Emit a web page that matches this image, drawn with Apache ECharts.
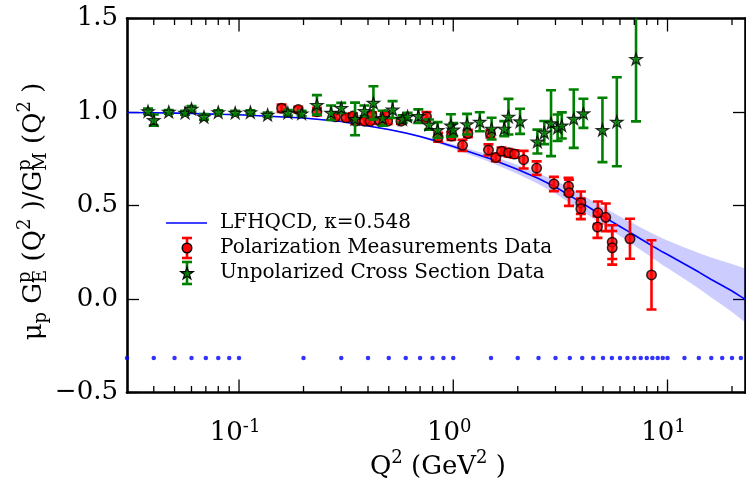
<!DOCTYPE html>
<html><head><meta charset="utf-8">
<script src="https://cdn.jsdelivr.net/npm/echarts@6/dist/echarts.min.js"></script>
<style>html,body{margin:0;padding:0;background:#fff}#c{width:746px;height:482px}</style>
</head><body><div id="c"></div>
<script>
const FONT = 'DejaVu Serif';
const seriesNames = ['LFHQCD, κ=0.548', 'Polarization Measurements Data', 'Unpolarized Cross Section Data'];

// theory curve (LFHQCD) and its uncertainty band
const curveQ = [0.03,0.04,0.05,0.06,0.07,0.08,0.09,0.1,0.2,0.3,0.4,0.5,0.6,0.7,0.8,0.9,1.0,1.5,2.0,2.5,3.0,3.5,4.0,4.5,5.0,5.5,6.0,6.5,7.0,7.5,8.0,8.5,9.0,9.5,10,12,14,16,18,20,22,23];
const curveV = [0.997,0.996,0.994,0.992,0.990,0.988,0.987,0.985,0.968,0.949,0.925,0.906,0.888,0.869,0.850,0.832,0.816,0.749,0.693,0.644,0.599,0.553,0.513,0.476,0.444,0.414,0.388,0.364,0.342,0.321,0.302,0.283,0.267,0.251,0.238,0.187,0.144,0.104,0.072,0.043,0.013,0.000];
const bandUpper = [1.000,0.999,0.997,0.995,0.993,0.991,0.990,0.988,0.971,0.952,0.928,0.909,0.893,0.875,0.858,0.842,0.827,0.768,0.717,0.673,0.634,0.593,0.556,0.521,0.492,0.465,0.441,0.420,0.401,0.382,0.366,0.350,0.337,0.323,0.313,0.275,0.246,0.222,0.203,0.187,0.171,0.163];
const bandLower = [0.994,0.993,0.991,0.989,0.987,0.985,0.984,0.982,0.965,0.946,0.922,0.903,0.883,0.863,0.842,0.822,0.805,0.730,0.669,0.615,0.564,0.513,0.470,0.431,0.396,0.366,0.337,0.311,0.286,0.262,0.241,0.219,0.200,0.181,0.166,0.107,0.056,0.008,-0.032,-0.069,-0.107,-0.123];

// blue dot row (Q^2 grid)
const gridDotQ = [0.03,0.04,0.05,0.06,0.07,0.08,0.09,0.1,0.2,0.3,0.4,0.5,0.6,0.7,0.8,0.9,1.0,1.5,2.0,2.5,3.0,3.5,4.0,4.5,5.0,5.5,6.0,6.5,7.0,7.5,8.0,8.5,9.0,9.5,10,12,14,16,18,20,22];
const gridDotLevel = -0.315;

// polarization measurements
const polQ = [0.158,0.189,0.231,0.282,0.316,0.340,0.350,0.385,0.409,0.417,0.455,0.480,0.494,0.570,0.750,0.850,0.980,1.105,1.170,1.490,1.460,1.580,1.680,1.810,1.930,2.130,2.450,2.950,3.450,3.470,3.940,3.940,4.730,4.710,5.150,5.520,5.520,6.680,8.420];
const polV = [1.020,1.013,1.002,0.974,0.969,0.978,0.951,0.951,0.951,0.983,0.951,0.985,0.951,0.951,0.975,0.865,0.871,0.822,0.885,0.884,0.797,0.757,0.790,0.782,0.775,0.745,0.700,0.615,0.603,0.568,0.515,0.482,0.461,0.385,0.437,0.304,0.274,0.322,0.129];
const polErr = [0.020,0.015,0.020,0.015,0.015,0.015,0.015,0.015,0.015,0.015,0.015,0.015,0.015,0.015,0.025,0.024,0.020,0.030,0.020,0.020,0.030,0.020,0.020,0.020,0.020,0.047,0.036,0.038,0.045,0.070,0.060,0.055,0.060,0.058,0.074,0.090,0.090,0.107,0.185];

// unpolarized cross section data
const unpQ = [0.0376,0.040,0.047,0.056,0.060,0.0686,0.080,0.096,0.113,0.136,0.169,0.196,0.231,0.269,0.300,0.348,0.385,0.424,0.468,0.521,0.580,0.612,0.687,0.770,0.845,0.975,1.000,1.160,1.330,1.510,1.730,1.810,2.050,2.470,2.660,2.860,3.070,3.210,3.650,4.050,4.970,5.800,7.130];
const unpV = [1.004,0.957,1.001,0.996,1.017,0.974,0.999,0.996,0.999,0.985,0.996,0.992,1.038,0.996,1.022,0.963,1.006,1.049,0.967,1.013,0.962,0.976,0.978,0.933,0.904,0.928,0.906,0.935,0.948,0.911,0.911,0.975,0.950,0.842,0.890,0.940,0.916,0.928,0.964,0.993,0.904,0.948,1.284];
const unpErr = [0.015,0.030,0.010,0.010,0.015,0.015,0.010,0.010,0.010,0.012,0.015,0.015,0.052,0.039,0.027,0.087,0.029,0.089,0.040,0.045,0.020,0.020,0.036,0.027,0.042,0.060,0.035,0.055,0.051,0.058,0.040,0.095,0.067,0.064,0.062,0.176,0.071,0.070,0.156,0.078,0.172,0.238,0.334];

// axes
const xMin = 0.03, xMax = 23;
const yMin = -0.5, yMax = 1.5, yStep = 0.5;
const xMajorTicks = [0.1, 1, 10];
const xMinorTicks = [0.04,0.05,0.06,0.07,0.08,0.09,0.2,0.3,0.4,0.5,0.6,0.7,0.8,0.9,2,3,4,5,6,7,8,9,20];

// 5-point star marker outline (unit geometry)
const STAR_PTS = [[0,-10],[2.245,-3.09],[9.511,-3.09],[3.633,1.18],[5.878,8.09],[0,3.82],[-5.878,8.09],[-3.633,1.18],[-9.511,-3.09],[-2.245,-3.09]];
const STAR = 'path://M' + STAR_PTS.map(p => p[0] + ',' + p[1]).join('L') + 'Z';
const RED = '#ff0000', GREEN = '#008000', BLUE = '#0000ff';

const mctx = document.createElement('canvas').getContext('2d');
function tw(t, s) { mctx.font = s + 'px "' + FONT + '"'; return mctx.measureText(t).width; }
function txt(t, s, x, y) {
  return { type: 'text', x: x, y: y, style: { text: t, fontSize: s, fontFamily: FONT, fill: '#000', verticalAlign: 'middle', align: 'left' } };
}
function buildPieces(pieces) {
  let x = 0; const out = [];
  pieces.forEach(p => {
    if (p.stack) {
      let w = 0;
      p.stack.forEach(s => { out.push(txt(s[0], s[1], x, s[2])); w = Math.max(w, tw(s[0], s[1])); });
      x += w;
    } else { out.push(txt(p[0], p[1], x, p[2])); x += tw(p[0], p[1]); }
  });
  return { children: out, width: x };
}
const M = 26, S = 18, UP = -9, DN = 7;
const yTitle = buildPieces([
  ['μ', M, 0], ['p', S, DN], [' G', M, 0], { stack: [['p', S, UP], ['E', S, DN]] },
  [' (Q', M, 0], ['2', S, UP], [' )/G', M, 0], { stack: [['p', S, UP], ['M', S, DN]] },
  [' (Q', M, 0], ['2', S, UP], [' )', M, 0]
]);
const xTitle = buildPieces([['Q', M, 0], ['2', S, UP], [' (GeV', M, 0], ['2', S, UP], [' )', M, 0]]);

function errBars(qs, vs, es, color) {
  return {
    type: 'custom', coordinateSystem: 'cartesian2d', clip: true, silent: true,
    data: qs.map((q, i) => [q, vs[i] - es[i], vs[i] + es[i]]),
    encode: { x: 0, y: [1, 2] },
    renderItem: function (params, api) {
      const q = api.value(0);
      const lo = api.coord([q, api.value(1)]);
      const hi = api.coord([q, api.value(2)]);
      const st = { stroke: color, lineWidth: 2.6 };
      return { type: 'group', children: [
        { type: 'line', shape: { x1: lo[0], y1: lo[1], x2: hi[0], y2: hi[1] }, style: st },
        { type: 'line', shape: { x1: lo[0] - 5, y1: lo[1], x2: lo[0] + 5, y2: lo[1] }, style: st },
        { type: 'line', shape: { x1: hi[0] - 5, y1: hi[1], x2: hi[0] + 5, y2: hi[1] }, style: st }
      ] };
    }
  };
}
function xTicks(list, len) {
  return {
    type: 'custom', coordinateSystem: 'cartesian2d', clip: false, silent: true, z: 10,
    data: list.map(q => [q, yMin]), encode: { x: 0, y: 1 },
    renderItem: function (params, api) {
      const q = api.value(0);
      const b = api.coord([q, yMin]);
      const t = api.coord([q, yMax]);
      const st = { stroke: '#000', lineWidth: 1.3 };
      return { type: 'group', children: [
        { type: 'line', shape: { x1: b[0], y1: b[1], x2: b[0], y2: b[1] - len }, style: st },
        { type: 'line', shape: { x1: t[0], y1: t[1], x2: t[0], y2: t[1] + len }, style: st }
      ] };
    }
  };
}

const legendStarScale = 12.5 / 19.02;
const legendStar = STAR_PTS.map(p => [187 + p[0] * legendStarScale, 273 + (p[1] + 0.955) * legendStarScale]);

const axisLine = { show: true, onZero: false, lineStyle: { color: '#000', width: 2.6 } };
const chart = echarts.init(document.getElementById('c'), null, { renderer: 'canvas' });
chart.setOption({
  animation: false,
  backgroundColor: '#fff',
  grid: { left: 127, top: 18.5, width: 618, height: 374 },
  xAxis: [
    { type: 'log', logBase: 10, min: xMin, max: xMax, position: 'bottom', axisLine: axisLine,
      axisTick: { show: false }, splitLine: { show: false },
      axisLabel: {
        margin: 26, showMinLabel: false, showMaxLabel: false, padding: [0, 8, 0, 0],
        formatter: function (v) {
          const e = Math.log10(v); const r = Math.round(e);
          if (Math.abs(e - r) > 1e-6) return '';
          return '{m|10}{s|' + (r < 0 ? '-' + (-r) : r) + '}';
        },
        rich: {
          m: { fontSize: 26, fontFamily: FONT, color: '#000', lineHeight: 30 },
          s: { fontSize: 18, fontFamily: FONT, color: '#000', verticalAlign: 'top', lineHeight: 18 }
        }
      } },
    { type: 'log', logBase: 10, min: xMin, max: xMax, position: 'top', axisLine: axisLine,
      axisTick: { show: false }, splitLine: { show: false }, axisLabel: { show: false } }
  ],
  yAxis: [
    { type: 'value', min: yMin, max: yMax, interval: yStep, position: 'left', axisLine: axisLine,
      axisTick: { show: true, inside: true, length: 12, lineStyle: { color: '#000', width: 1.3 } },
      splitLine: { show: false },
      axisLabel: { margin: 9, fontSize: 26, fontFamily: FONT, color: '#000',
        formatter: v => (v < 0 ? '\u2212' + Math.abs(v).toFixed(1) : v.toFixed(1)) } },
    { type: 'value', min: yMin, max: yMax, interval: yStep, position: 'right', axisLine: axisLine,
      axisTick: { show: true, inside: true, length: 12, lineStyle: { color: '#000', width: 1.3 } },
      splitLine: { show: false }, axisLabel: { show: false } }
  ],
  series: [
    { type: 'custom', coordinateSystem: 'cartesian2d', clip: true, silent: true, z: 1,
      data: [[curveQ[0], curveV[0]]], encode: { x: 0, y: 1 },
      renderItem: function (params, api) {
        const pts = [];
        curveQ.forEach((q, i) => pts.push(api.coord([q, bandUpper[i]])));
        for (let i = curveQ.length - 1; i >= 0; i--) pts.push(api.coord([curveQ[i], bandLower[i]]));
        return { type: 'polygon', shape: { points: pts }, style: { fill: 'rgba(0,0,255,0.2)' } };
      } },
    { name: seriesNames[0], type: 'line', z: 2, symbol: 'none', silent: true, clip: true,
      data: curveQ.map((q, i) => [q, curveV[i]]), lineStyle: { color: BLUE, width: 1.6 } },
    { type: 'scatter', z: 2, silent: true, symbol: 'circle', symbolSize: 4.5,
      data: gridDotQ.map(q => [q, gridDotLevel]), itemStyle: { color: BLUE } },
    Object.assign(errBars(polQ, polV, polErr, RED), { z: 3 }),
    { name: seriesNames[1], type: 'scatter', z: 4, silent: true, symbol: 'circle', symbolSize: 9.5,
      data: polQ.map((q, i) => [q, polV[i]]), itemStyle: { color: RED, borderColor: '#000', borderWidth: 1.5 } },
    Object.assign(errBars(unpQ, unpV, unpErr, GREEN), { z: 5 }),
    { name: seriesNames[2], type: 'scatter', z: 6, silent: true, symbol: STAR, symbolSize: [12.5, 11.9],
      data: unpQ.map((q, i) => [q, unpV[i]]), itemStyle: { color: GREEN, borderColor: '#000', borderWidth: 1.2 } },
    xTicks(xMajorTicks, 13),
    xTicks(xMinorTicks, 6.5)
  ],
  graphic: [
    { type: 'group', x: 34, y: 211.5 + yTitle.width / 2, rotation: Math.PI / 2, children: yTitle.children, z: 20 },
    { type: 'group', x: 438 - xTitle.width / 2, y: 467, children: xTitle.children, z: 20 },
    // legend
    { type: 'line', shape: { x1: 166, y1: 223, x2: 207, y2: 223 }, style: { stroke: BLUE, lineWidth: 1.6 }, z: 20 },
    { type: 'line', shape: { x1: 187, y1: 238, x2: 187, y2: 258 }, style: { stroke: RED, lineWidth: 2.6 }, z: 20 },
    { type: 'line', shape: { x1: 182, y1: 238, x2: 192, y2: 238 }, style: { stroke: RED, lineWidth: 2.6 }, z: 20 },
    { type: 'line', shape: { x1: 182, y1: 258, x2: 192, y2: 258 }, style: { stroke: RED, lineWidth: 2.6 }, z: 20 },
    { type: 'circle', shape: { cx: 187, cy: 248, r: 4.75 }, style: { fill: RED, stroke: '#000', lineWidth: 1.5 }, z: 21 },
    { type: 'line', shape: { x1: 187, y1: 262, x2: 187, y2: 284 }, style: { stroke: GREEN, lineWidth: 2.6 }, z: 20 },
    { type: 'line', shape: { x1: 182, y1: 262, x2: 192, y2: 262 }, style: { stroke: GREEN, lineWidth: 2.6 }, z: 20 },
    { type: 'line', shape: { x1: 182, y1: 284, x2: 192, y2: 284 }, style: { stroke: GREEN, lineWidth: 2.6 }, z: 20 },
    { type: 'polygon', shape: { points: legendStar }, style: { fill: GREEN, stroke: '#000', lineWidth: 1.2 }, z: 21 },
    txt(seriesNames[0], 20, 220, 223),
    txt(seriesNames[1], 20, 220, 248),
    txt(seriesNames[2], 20, 220, 273)
  ]
});
</script>
</body></html>
